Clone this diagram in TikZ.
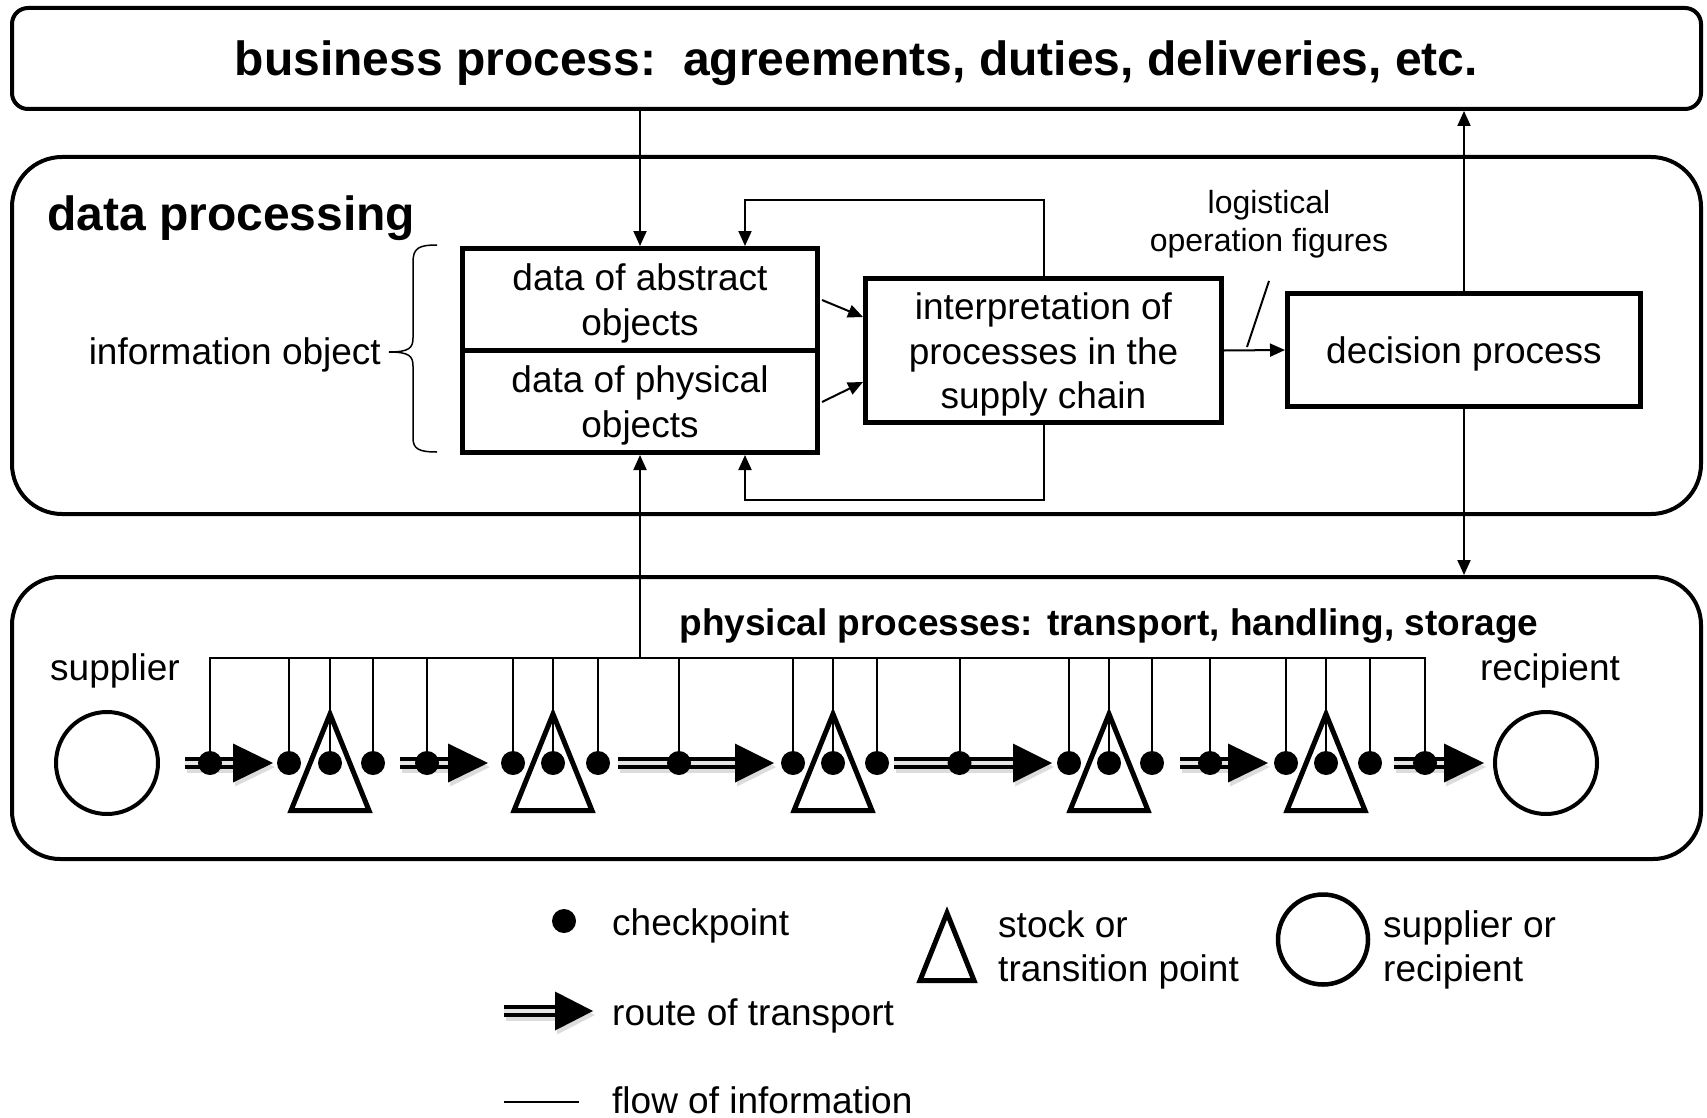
\documentclass[tikz,border=0pt]{standalone}
\usepackage{fontspec}
\setmainfont{Liberation Sans}
\usetikzlibrary{arrows.meta}
\newcommand\routearrow[4]{%
  \fill[gray!60, opacity=.45] (#2+2,#1-6+4) rectangle (#3+2,#1+6+4);
  \fill[gray!60, opacity=.45] (#3+2,#1-19.5+4) -- (#4+2,#1+4) -- (#3+2,#1+19.5+4) -- cycle;
  \draw[line width=4.5pt, double=gray!20, double distance=3.5pt] (#2,#1) -- (#3+2,#1);
  \fill[black] (#3,#1-19.5) -- (#4,#1) -- (#3,#1+19.5) -- cycle;
}
\begin{document}
\begin{tikzpicture}[x=1pt,y=-1pt,
  outerbox/.style={draw, line width=4pt, inner sep=0pt, minimum width=1689pt},
  inbox/.style={draw, line width=5pt, inner sep=0pt},
  boxtext/.style={inner sep=0pt, align=center, font=\fontsize{37}{44.5}\selectfont},
  info/.style={line width=2pt},
  infoarrow/.style={info, -{Triangle[length=15pt,width=13pt]}},
  dot/.style={circle, fill=black, inner sep=0pt, minimum size=24pt},
  tri/.style={draw, line width=5pt, line join=miter},
  lbl/.style={inner sep=0pt, font=\fontsize{37}{44.5}\selectfont, align=left},
  ring/.style={circle, draw, line width=4pt, inner sep=0pt},
]
\useasboundingbox (0,0) rectangle (1707,1118);

% outer boxes
\node[outerbox, rounded corners=16pt, minimum height=101pt] (titlebox) at (856.5,58.5) {};
\node[inner sep=0pt, font=\fontsize{48}{58}\selectfont\bfseries] (titletxt) at ([yshift=-4.5pt]titlebox.center) {business process:\ \ agreements, duties, deliveries, etc.};
\node[outerbox, rounded corners=50pt, minimum height=357pt] (databox) at (856.5,335.5) {};
\node[outerbox, rounded corners=48pt, minimum height=282pt] (physbox) at (856.5,718) {};

\node[lbl, anchor=west, font=\fontsize{48}{58}\selectfont\bfseries] (dptitle) at (47,218) {data processing};
\node[lbl, font=\fontsize{37}{44.5}\selectfont\bfseries] (pptitle) at (1109,626) {physical processes: transport, handling, storage};

% inner boxes
\node[inbox, minimum width=355pt, minimum height=101.5pt] (abs) at (640,299.25) {};
\node[inbox, minimum width=355pt, minimum height=102.5pt] (phy) at (640,401.25) {};
\node[inbox, minimum width=356pt, minimum height=144pt] (interp) at (1043.5,350.5) {};
\node[inbox, minimum width=353pt, minimum height=113pt] (dec) at (1464,350) {};
\node[boxtext] (abstxt) at ([yshift=-4pt]abs.center) {data of abstract\\objects};
\node[boxtext] (phytxt) at ([yshift=-4pt]phy.center) {data of physical\\objects};
\node[boxtext] (interptxt) at ([yshift=-4pt]interp.center) {interpretation of\\processes in the\\supply chain};
\node[boxtext] (dectxt) at ([yshift=-4pt]dec.center) {decision process};

% brace and label
\node[lbl, anchor=east] (infoobj) at (381,355) {information object};
\draw[line width=1.5pt] (437,245) .. controls (419,245) and (413,248) .. (413,262) -- (413,338) .. controls (413,348) and (409,352) .. (389,352) .. controls (409,352) and (413,356) .. (413,366) -- (413,438) .. controls (413,449) and (419,452) .. (437,452);

% information flows in data processing
\draw[infoarrow] (abs.north |- titlebox.south) -- (abs.north);
\draw[infoarrow] (dec.north) -- (dec.north |- titlebox.south);
\draw[infoarrow] (dec.south) -- (dec.south |- physbox.north);
\coordinate (lpt) at (745,200);
\coordinate (lpb) at (745,500);
\draw[infoarrow] (interp.north) |- (lpt) -- (lpt |- abs.north);
\draw[infoarrow] (interp.south) |- (lpb) -- (lpb |- phy.south);
\coordinate (a1) at (822,300);
\coordinate (a2) at (863,317);
\coordinate (b1) at (822,402);
\coordinate (b2) at (863,382);
\draw[infoarrow] (a1) -- (a2);
\draw[infoarrow] (b1) -- (b2);
\draw[infoarrow] (interp.east) -- (dec.west);
\coordinate (s1) at (1269,281);
\coordinate (s2) at (1247,347);
\draw[info] (s1) -- (s2);
\node[inner sep=0pt, align=center, font=\fontsize{32}{38}\selectfont] (logfig) at (1269,224.5) {logistical\\operation figures};

% physical chain
\routearrow{763}{185}{233}{273}
\routearrow{763}{400}{448}{488}
\routearrow{763}{618}{735}{774}
\routearrow{763}{894}{1013}{1052}
\routearrow{763}{1180}{1228}{1268}
\routearrow{763}{1394}{1444}{1484}
\foreach \x in {330,553,833,1109,1326}
  \draw[tri] (\x,714) -- (\x-39,810.5) -- (\x+39,810.5) -- cycle;
\foreach \x [count=\i] in {210,289,330,373,427,513,553,598,679,793,833,877,959.5,1069,1109,1152,1210,1286,1326,1370,1425}
  \node[dot] (d\i) at (\x,763) {};
\coordinate (busL) at (210,658);
\coordinate (busR) at (1425,658);
\draw[info] (d1) |- (busR) -- (d21);
\foreach \i in {2,...,20}
  \draw[info] (d\i.center |- busL) -- (d\i);
\draw[infoarrow] (abs.north |- busL) -- (phy.south);

\node[ring, minimum size=102pt] (sup) at (107,763) {};
\node[ring, minimum size=102pt] (rec) at (1546,763) {};
\node[lbl, anchor=west] (suplbl) at (50,671) {supplier};
\node[lbl] (reclbl) at (1550,671) {recipient};

% legend
\node[dot] (legdot) at (564,921) {};
\node[lbl, anchor=west] (legdottxt) at (612,926) {checkpoint};
\routearrow{1011}{504}{555}{593}
\node[lbl, anchor=west] (legroutetxt) at (612,1016) {route of transport};
\coordinate (lf1) at (504,1102);
\coordinate (lf2) at (579,1102);
\draw[info] (lf1) -- (lf2);
\node[lbl, anchor=west] (legflowtxt) at (612,1100) {flow of information};
\draw[tri] (947,913) -- (920,980.5) -- (974,980.5) -- cycle;
\node[lbl, anchor=west] (legtritxt) at (998,950) {stock or\\transition point};
\node[ring, line width=4.5pt, minimum size=90pt] (legcirc) at (1323,939.5) {};
\node[lbl, anchor=west] (legcirctxt) at (1383,950) {supplier or\\recipient};
\end{tikzpicture}
\end{document}
